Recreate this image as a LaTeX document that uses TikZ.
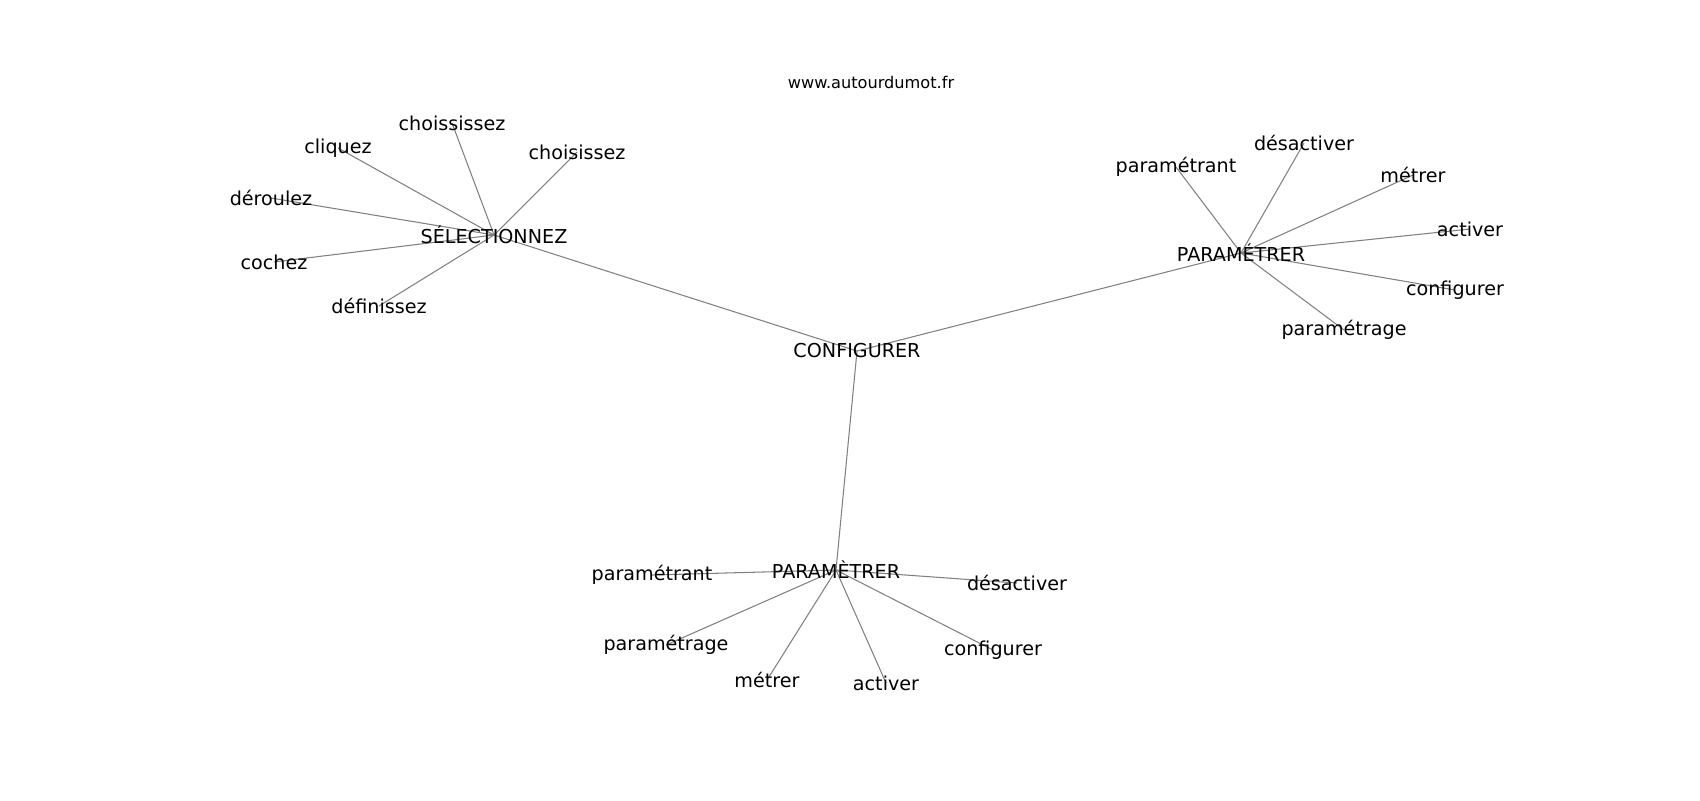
\documentclass[tikz,border=0pt]{standalone}
\usepackage{fontspec}
\setmainfont{DejaVu Sans}
\usetikzlibrary{backgrounds}
\tikzset{
  word/.style={inner sep=0pt,font=\fontsize{10.9}{12}\selectfont},
  site/.style={inner sep=0pt,font=\fontsize{9.2}{11}\selectfont},
  link/.style={draw=gray,line width=0.6pt}
}
\begin{document}
\begin{tikzpicture}[x=0.2mm,y=-0.2mm]
        \useasboundingbox (0,0) rectangle (1700,800);
        \node[site] (site) at (871,82) {www.autourdumot.fr};
        %% centre and hubs
        \node[word] (conf) at (857,351) {CONFIGURER};
        \node[word] (sel)  at (494,235) {SÉLECTIONNEZ};
        \node[word] (parA) at (1241,253) {PARAMÉTRER};
        \node[word] (parB) at (836,570) {PARAMÈTRER};
        \begin{scope}[on background layer]
            \foreach \hub in {sel,parA,parB}
                \draw[link] (conf.center) -- (\hub.center);
        \end{scope}
        %% SÉLECTIONNEZ
        \foreach \n/\x/\y/\w in {sA/452/123/choississez,sB/338/148/cliquez,
                sC/271/198/déroulez,sD/274/262/cochez,
                sE/379/306/définissez,sF/577/152/choisissez}{
            \node[word] (\n) at (\x,\y) {\w};
            \begin{pgfonlayer}{background}
                \draw[link] (sel.center) -- (\n.center);
            \end{pgfonlayer}
        }
        %% PARAMÉTRER
        \foreach \n/\x/\y/\w in {aA/1176/167/paramétrant,aB/1304/143/désactiver,
                aC/1413/175/métrer,aD/1470/229/activer,
                aE/1455/290/configurer,aF/1344/330/paramétrage}{
            \node[word] (\n) at (\x,\y) {\w};
            \begin{pgfonlayer}{background}
                \draw[link] (parA.center) -- (\n.center);
            \end{pgfonlayer}
        }
        %% PARAMÈTRER
        \foreach \n/\x/\y/\w in {bA/652/575/paramétrant,bB/666/645/paramétrage,
                bC/767/680/métrer,bD/886/683/activer,
                bE/993/650/configurer,bF/1017/583/désactiver}{
            \node[word] (\n) at (\x,\y) {\w};
            \begin{pgfonlayer}{background}
                \draw[link] (parB.center) -- (\n.center);
            \end{pgfonlayer}
        }
    \end{tikzpicture}
\end{document}
